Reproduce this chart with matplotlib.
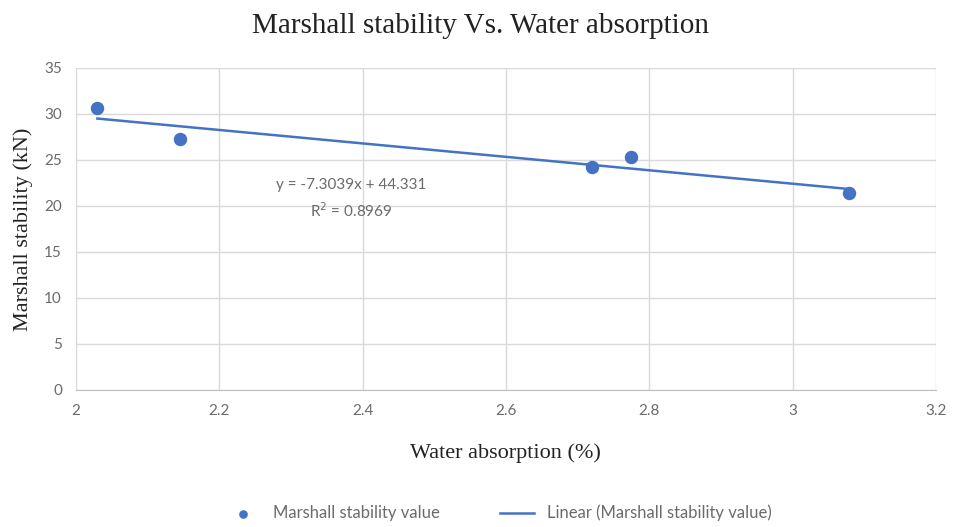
import numpy as np
from matplotlib import pyplot as plt

# measured samples
water_absorption = [2.03, 2.145, 2.72, 2.775, 3.078]
marshall_stability = [30.6, 27.3, 24.2, 25.3, 21.4]

# trendline reported for the series
slope = -7.3039
intercept = 44.331
r_squared = 0.8969

blue = '#4472C4'
grey = '#6b6b6b'

fig = plt.figure(figsize=(9.6, 5.27), dpi=100)
ax = fig.add_axes([0.079, 0.26, 0.896, 0.611])

ax.scatter(water_absorption, marshall_stability, s=75, color=blue, zorder=3,
           label='Marshall stability value')
xs = np.array([min(water_absorption), max(water_absorption)])
ax.plot(xs, slope * xs + intercept, color=blue, lw=1.8, zorder=2,
        label='Linear (Marshall stability value)')

ax.set_xlim(2, 3.2)
ax.set_ylim(0, 35)
ax.set_xticks(np.arange(2, 3.21, 0.2))
ax.set_xticklabels(['2', '2.2', '2.4', '2.6', '2.8', '3', '3.2'])
ax.set_yticks(range(0, 36, 5))
ax.grid(True, color='#d9d9d9', lw=1)
ax.set_axisbelow(True)
for s in ['top', 'right', 'left']:
    ax.spines[s].set_visible(False)
ax.spines['bottom'].set_color('#bfbfbf')
ax.tick_params(length=0, colors=grey, labelsize=11, pad=10)
for lab in ax.get_xticklabels() + ax.get_yticklabels():
    lab.set_family('Lato')

ax.text(2.384, 20.8, 'y = -7.3039x + 44.331\nR$^2$ = 0.8969', color=grey,
        fontsize=11, family='Lato', ha='center', va='center', linespacing=1.6)

serif = 'Liberation Serif'
fig.suptitle('Marshall stability Vs. Water absorption', family=serif,
             fontsize=21, y=0.975, color='#222222')
ax.set_xlabel('Water absorption (%)', family=serif, fontsize=16, labelpad=18,
              color='#222222')
ax.set_ylabel('Marshall stability (kN)', family=serif, fontsize=16,
              labelpad=8, color='#222222')

fig.legend(loc='lower center', bbox_to_anchor=(0.52, -0.018), ncol=2,
           frameon=False, prop={'family': 'Lato', 'size': 12},
           labelcolor=grey, columnspacing=3.6, handlelength=2.0,
           markerscale=0.6)

plt.savefig('out.png', dpi=100)
